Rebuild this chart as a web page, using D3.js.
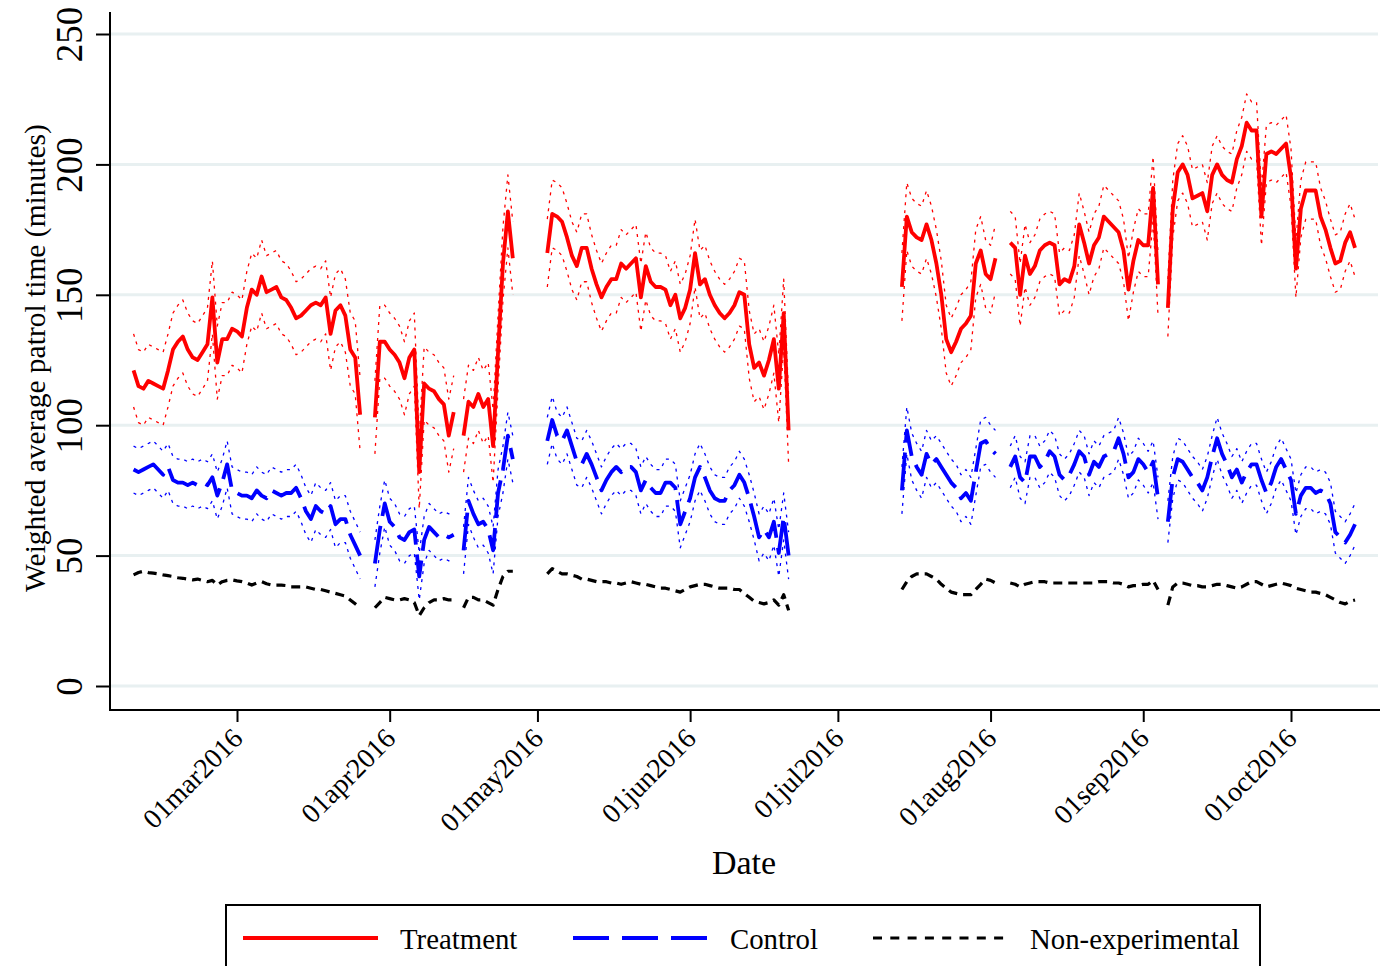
<!DOCTYPE html>
<html>
<head>
<meta charset="utf-8">
<script src="https://cdn.jsdelivr.net/npm/d3@7"></script>
<style>
  body { margin: 0; background: #fff; }
  text { font-family: "Liberation Serif", "Times New Roman", serif; fill: #000; }
</style>
</head>
<body>
<div id="chart"></div>
<script>

// each series is split in runs of consecutive days (the plot has gaps)
const segmentStart = ["2016-02-09", "2016-03-29", "2016-04-16", "2016-05-03", "2016-07-14", "2016-08-05", "2016-09-06"];

const treatment = [
  [121,115,114,117,116,115,114,121,129,132,134,129,126,125,128,131,149,124,133,133,137,136,134,145,152,150,157,151,152,153,149,148,145,141,142,144,146,147,146,149,135,144,146,142,129,126,104],
  [103,132,132,129,127,124,118,126,129,82,116,114,113,110,108,96,105],
  [96,109,107,112,107,110,92,128,162,182,164],
  [166,181,180,178,172,165,161,168,168,160,154,149,153,156,156,162,160,162,164,149,161,155,153,153,152,146,150,141,145,152,166,154,156,150,146,143,141,143,146,151,150,131,122,124,119,125,133,114,143,98],
  [153,180,174,172,171,177,171,162,150,133,128,132,137,139,142,162,167,158,156,164],
  [170,168,150,165,158,161,167,169,170,169,154,156,155,161,177,170,162,169,172,180,178,176,174,167,152,163,171,169,169,191,154],
  [145,183,197,200,196,187,188,189,182,196,200,196,194,193,202,207,216,213,213,180,204,205,204,206,208,195,160,183,190,190,190,180,175,168,162,163,170,174,168]
];

const control = [
  [83,82,83,84,85,83,81,84,79,78,78,77,78,77,78,77,80,73,78,85,75,74,73,73,72,75,73,72,75,74,73,74,74,76,72,67,64,69,67,66,69,62,64,64,58,54,50],
  [47,60,70,63,61,57,56,59,60,42,56,61,59,57,58,57,58],
  [52,71,66,62,63,60,52,74,83,96,87],
  [94,102,96,94,98,92,86,85,89,85,80,75,79,82,84,82,84,84,82,75,79,76,74,74,78,78,76,62,67,72,80,84,80,75,72,71,71,75,77,81,78,72,65,57,60,57,63,51,65,50],
  [75,98,88,84,81,89,85,87,84,81,78,76,72,74,71,82,93,94,91,89],
  [84,88,80,78,88,88,84,86,90,88,81,79,81,85,90,88,81,86,84,88,89,90,95,89,80,82,87,85,82,86,72],
  [63,80,87,86,83,80,78,75,80,88,95,89,85,80,83,78,82,85,85,79,74,78,84,87,83,79,66,73,76,76,74,75,74,70,59,57,55,58,62]
];

const nonExperimental = [
  [42.6,43.5,44,43.5,43.3,43,42.6,42.3,42,41.5,41.3,41,40.7,41,40.5,40,40.5,38.7,40,40.5,40.7,40.3,40,39.5,38.7,39.5,40,39.2,38.7,38.7,38.7,38.5,38,38,38,38,37.5,37,37,36.5,36,35.5,35,34.5,33,31.5,30],
  [30,32,34,33.5,33,33,33.5,33,32,27,30,32,33,33,33.5,33,33],
  [30,34,34,33,33,32,31,37,42,44,44],
  [43,45,44,43,43,42.5,42,41,41,40.5,40,40,40,39.5,39.5,39,39.5,40,39.5,39,39,38.5,38,37.5,37.5,37,36.5,36,37,38,38.5,39,39,38.5,38,37.5,37.5,37.5,37,37,35.5,34,32.5,32,31.5,32,33,31,35,29],
  [37,40,42,43,43,43,42,41,39,37.5,36,35.5,35,35,35,37,39,41,40.5,39.5],
  [39.5,39,38,39,39.5,40,40,40,39.5,39.5,39.5,39.5,39.5,39.5,39.5,39.5,39.5,39.5,40,40,40,39.5,39.5,39,38,38.5,38.5,39,39,40.5,37],
  [31,38,39.5,39.5,39,38.5,38.5,38,38,38.5,39,39,38.5,38,37.5,38,39,40,40,39,38,38.5,39,39.5,39,38.5,37.5,37,36.5,36,36,35.5,35,34,33,32,31.5,32.5,33]
];

// half width of the confidence band, one per run
const treatmentCI = [14, 14, 14, 13, 13, 12, 11];
const controlCI = [9, 9, 9, 9, 9, 8, 8];

const yTicks = [0, 50, 100, 150, 200, 250];
const xTicks = ["2016-03-01","2016-04-01","2016-05-01","2016-06-01","2016-07-01","2016-08-01","2016-09-01","2016-10-01"];
const legendLabels = ["Treatment", "Control", "Non-experimental"];


const parse = d3.utcParse("%Y-%m-%d");
const fmt = d3.utcFormat("%d%b%Y");

const svg = d3.select("#chart").append("svg")
    .attr("width", 1389)
    .attr("height", 966);

const margin = {left: 110, right: 1380, top: 12, bottom: 710};

var x = d3.scaleUtc()
    .domain([parse("2016-03-01"), parse("2016-10-01")])
    .range([237, 1291]);
var y = d3.scaleLinear().domain([0, 250]).range([686, 34]);

// grid
svg.append("g").selectAll("line")
    .data(yTicks)
    .join("line")
    .attr("x1", margin.left).attr("x2", margin.right - 2)
    .attr("y1", d => y(d)).attr("y2", d => y(d))
    .attr("stroke", "#e8f0f1")
    .attr("stroke-width", 3);

function runs(series, offset) {
  return series.map(function(vals, k) {
    const start = parse(segmentStart[k]);
    return vals.map(function(v, i) {
      return {date: d3.utcDay.offset(start, i), v: v + (offset ? offset[k] : 0)};
    });
  });
}
function neg(a) { return a.map(d => -d); }

const line = d3.line()
    .x(d => x(d.date))
    .y(d => y(d.v));

function drawRuns(data, color, width, dash) {
  svg.append("g")
    .selectAll("path")
    .data(data)
    .join("path")
    .attr("d", line)
    .attr("fill", "none")
    .attr("stroke", color)
    .attr("stroke-width", width)
    .attr("stroke-dasharray", dash)
    .attr("stroke-linejoin", "round");
}

// confidence bands (thin short dash)
drawRuns(runs(treatment, treatmentCI), "#ff0000", 1.3, "3,5");
drawRuns(runs(treatment, neg(treatmentCI)), "#ff0000", 1.3, "3,5");
drawRuns(runs(control, controlCI), "#0000ff", 1.3, "3,5");
drawRuns(runs(control, neg(controlCI)), "#0000ff", 1.3, "3,5");

drawRuns(runs(nonExperimental), "#000", 3.2, "9,6");
drawRuns(runs(control), "#0000ff", 3.8, "38,10");
drawRuns(runs(treatment), "#ff0000", 3.8, null);

// y axis
const gy = svg.append("g")
    .attr("transform", "translate(" + margin.left + ",0)")
    .call(d3.axisLeft(y).tickValues(yTicks).tickSize(14));
gy.select(".domain").remove();
gy.selectAll(".tick line").attr("stroke", "#000").attr("stroke-width", 2);
gy.selectAll(".tick text")
    .attr("x", null).attr("dy", null)
    .attr("text-anchor", "middle")
    .attr("font-size", 37)
    .attr("font-family", null)
    .attr("transform", "translate(-28,0) rotate(-90)");

// x axis
const gx = svg.append("g")
    .attr("transform", "translate(0," + margin.bottom + ")")
    .call(d3.axisBottom(x).tickValues(xTicks.map(parse)).tickSize(12)
      .tickFormat(d => fmt(d).toLowerCase()));
gx.select(".domain").remove();
gx.selectAll(".tick line").attr("stroke", "#000").attr("stroke-width", 2);
gx.selectAll(".tick text")
    .attr("y", null).attr("dy", null)
    .attr("text-anchor", "end")
    .attr("font-size", 28)
    .attr("font-family", null)
    .attr("transform", "translate(7,30) rotate(-45)");

svg.append("path")
    .attr("d", "M" + margin.left + "," + margin.top + "V" + margin.bottom + "H" + margin.right)
    .attr("fill", "none")
    .attr("stroke", "#000")
    .attr("stroke-width", 2);

svg.append("text")
    .attr("transform", "translate(45,358) rotate(-90)")
    .attr("text-anchor", "middle")
    .attr("font-size", 29.5)
    .text("Weighted average patrol time (minutes)");

svg.append("text")
    .attr("x", 744).attr("y", 874)
    .attr("text-anchor", "middle")
    .attr("font-size", 34)
    .text("Date");

// legend
svg.append("rect")
    .attr("x", 226).attr("y", 905)
    .attr("width", 1034).attr("height", 90)
    .attr("fill", "none")
    .attr("stroke", "#000")
    .attr("stroke-width", 2);

const legendItems = [
  {x: 243, color: "#ff0000", width: 3.8, dash: null},
  {x: 573, color: "#0000ff", width: 3.8, dash: "36,13"},
  {x: 873, color: "#000", width: 3.2, dash: "9,8.3"}
];
const lg = svg.append("g").selectAll("g")
    .data(legendItems)
    .join("g")
    .attr("transform", d => "translate(" + d.x + ",938)");
lg.append("line")
    .attr("x1", 0).attr("x2", 135)
    .attr("stroke", d => d.color)
    .attr("stroke-width", d => d.width)
    .attr("stroke-dasharray", d => d.dash);
lg.append("text")
    .attr("x", 157).attr("y", 11)
    .attr("font-size", 28.8)
    .text((d, i) => legendLabels[i]);

</script>
</body>
</html>
